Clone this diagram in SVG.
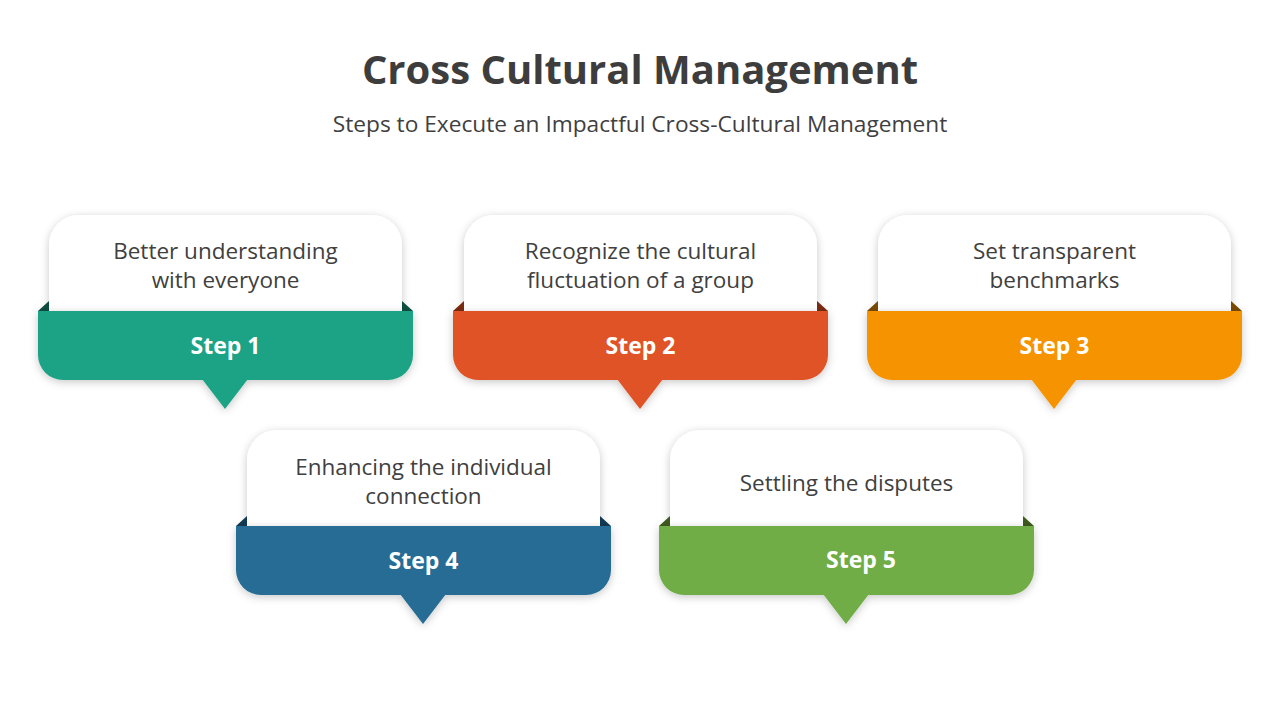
<svg xmlns="http://www.w3.org/2000/svg" width="1280" height="720" viewBox="0 0 1280 720">
<defs>
<filter id="sh" x="-20%" y="-20%" width="140%" height="150%">
<feDropShadow dx="0" dy="2" stdDeviation="4" flood-color="#000" flood-opacity="0.22"/>
</filter>
<g id="card">
<path d="M49,330 V245 A30,30 0 0 1 79,215 H372 A30,30 0 0 1 402,245 V330 Z" fill="#fff" filter="url(#sh)"/>
</g>
</defs>
<style>
.t{font-family:"Open Sans","Noto Sans","Liberation Sans",sans-serif;fill:#404040;text-anchor:middle}
.title{font-size:40px;font-weight:bold;fill:#3d3d3d}
.sub{font-size:22.7px}
.lbl{font-size:22.5px}
.step{font-family:"Open Sans","Noto Sans","Liberation Sans",sans-serif;font-size:23px;font-weight:bold;fill:#fff;text-anchor:middle}
</style>
<rect width="1280" height="720" fill="#fff"/>
<text class="t title" x="640" y="84">Cross Cultural Management</text>
<text class="t sub" x="640" y="132">Steps to Execute an Impactful Cross-Cultural Management</text>

<g id="step1">
<use href="#card"/>
<path d="M38,311 L49,301 L49,311 Z M413,311 L402,301 L402,311 Z" fill="#0E4F40"/>
<path d="M38,311 H413 V355 A25,25 0 0 1 388,380 H63 A25,25 0 0 1 38,355 Z M202,379 L248,379 L225,409 Z" fill="#1DA386" filter="url(#sh)"/>
<text class="t lbl" x="225.5" y="259">Better understanding</text>
<text class="t lbl" x="225.5" y="288">with everyone</text>
<text class="step" x="225.5" y="354">Step 1</text>
</g>

<g id="step2" transform="translate(415,0)">
<use href="#card"/>
<path d="M38,311 L49,301 L49,311 Z M413,311 L402,301 L402,311 Z" fill="#7A2A10"/>
<path d="M38,311 H413 V355 A25,25 0 0 1 388,380 H63 A25,25 0 0 1 38,355 Z M202,379 L248,379 L225,409 Z" fill="#E05326" filter="url(#sh)"/>
<text class="t lbl" x="225.5" y="259">Recognize the cultural</text>
<text class="t lbl" x="225.5" y="288">fluctuation of a group</text>
<text class="step" x="225.5" y="354">Step 2</text>
</g>

<g id="step3" transform="translate(829,0)">
<use href="#card"/>
<path d="M38,311 L49,301 L49,311 Z M413,311 L402,301 L402,311 Z" fill="#7A4A00"/>
<path d="M38,311 H413 V355 A25,25 0 0 1 388,380 H63 A25,25 0 0 1 38,355 Z M202,379 L248,379 L225,409 Z" fill="#F59300" filter="url(#sh)"/>
<text class="t lbl" x="225.5" y="259">Set transparent</text>
<text class="t lbl" x="225.5" y="288">benchmarks</text>
<text class="step" x="225.5" y="354">Step 3</text>
</g>

<g id="step4" transform="translate(198,215)">
<use href="#card"/>
<path d="M38,311 L49,301 L49,311 Z M413,311 L402,301 L402,311 Z" fill="#123A52"/>
<path d="M38,311 H413 V355 A25,25 0 0 1 388,380 H63 A25,25 0 0 1 38,355 Z M202,379 L248,379 L225,409 Z" fill="#276C94" filter="url(#sh)"/>
<text class="t lbl" x="225.5" y="260">Enhancing the individual</text>
<text class="t lbl" x="225.5" y="289">connection</text>
<text class="step" x="225.5" y="354">Step 4</text>
</g>

<g id="step5" transform="translate(621,215)">
<use href="#card"/>
<path d="M38,311 L49,301 L49,311 Z M413,311 L402,301 L402,311 Z" fill="#3E5A1E"/>
<path d="M38,311 H413 V355 A25,25 0 0 1 388,380 H63 A25,25 0 0 1 38,355 Z M202,379 L248,379 L225,409 Z" fill="#70AD47" filter="url(#sh)"/>
<text class="t lbl" x="225.5" y="276">Settling the disputes</text>
<text class="step" x="240" y="353">Step 5</text>
</g>
<g id="connectors"/>
</svg>
